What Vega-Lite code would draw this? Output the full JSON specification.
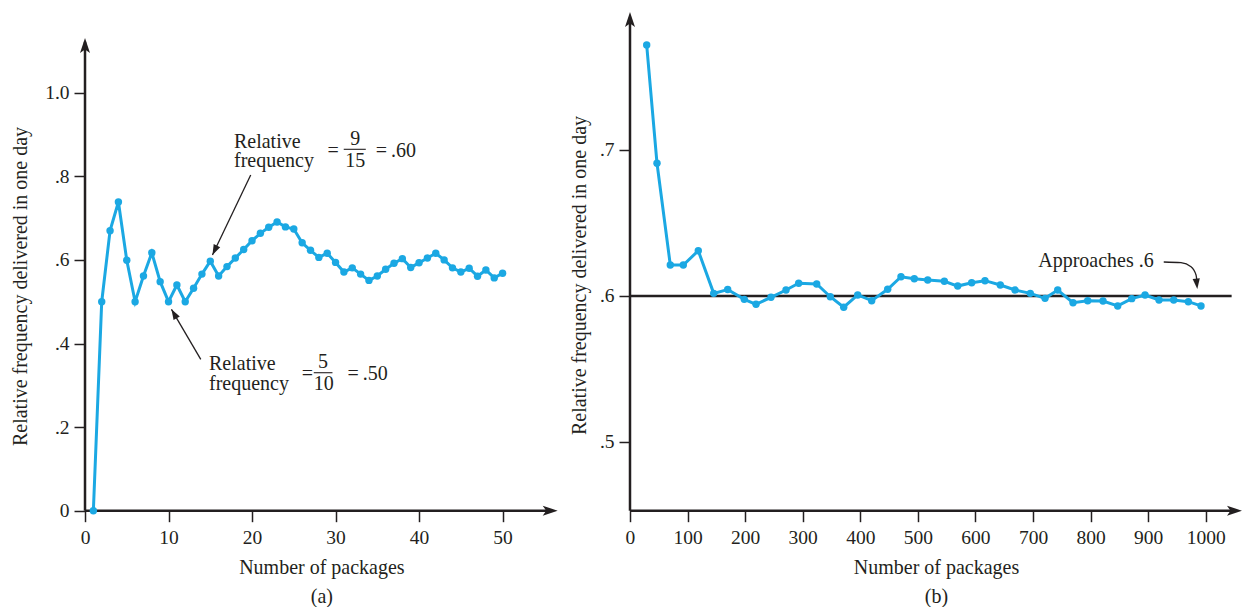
{
  "$schema": "https://vega.github.io/schema/vega-lite/v6.json",
  "background": "#ffffff",
  "padding": {"left": 10, "top": 12, "right": 0, "bottom": 0},
  "bounds": "flush",
  "spacing": 72,
  "config": {
    "view": {"stroke": null},
    "font": "Liberation Serif",
    "axis": {
      "domain": false, "grid": false, "tickSize": 11, "tickWidth": 1.5, "tickColor": "#231f20",
      "labelFont": "Liberation Serif", "labelFontSize": 19.5, "labelColor": "#231f20", "labelFlush": false, "labelOverlap": false,
      "titleFont": "Liberation Serif", "titleFontSize": 20, "titleFontWeight": "normal", "titleColor": "#231f20"
    },
    "axisX": {"labelPadding": 7, "titlePadding": 10, "titleLineHeight": 29},
    "axisY": {"labelPadding": 5, "titleBaseline": "middle"}
  },
  "hconcat": [
    {
      "width": 472.7,
      "height": 498.7,
      "data": {"values": [{}]},
      "layer": [
        {"data": {"values": [
          {"n": 1, "f": 0}, {"n": 50, "f": 0.568}
         ]},
         "mark": {"type": "rule", "opacity": 0},
         "encoding": {
           "x": {"field": "n", "type": "quantitative", "scale": {"domain": [0, 56.6], "nice": false, "zero": false},
                 "axis": {"values": [0, 10, 20, 30, 40, 50], "title": ["Number of packages", "(a)"]}},
           "y": {"field": "f", "type": "quantitative", "scale": {"domain": [0, 1.1931], "nice": false, "zero": false},
                 "axis": {"values": [0, 0.2, 0.4, 0.6, 0.8, 1], "labelExpr": "datum.value == 0 ? '0' : (datum.value == 1 ? '1.0' : replace(format(datum.value, '.1f'), '0.', '.'))",
                          "title": "Relative frequency delivered in one day", "titleX": -64.3, "titleY": 274}}
         }},
        {"mark": {"type": "rule", "color": "#231f20", "strokeWidth": 2.5},
         "encoding": {"x": {"datum": 0, "type": "quantitative"}, "y": {"datum": 0, "type": "quantitative"}, "y2": {"datum": 1.122}}},
        {"mark": {"type": "rule", "color": "#231f20", "strokeWidth": 2.5},
         "encoding": {"x": {"datum": 0, "type": "quantitative"}, "x2": {"datum": 56.0}, "y": {"datum": 0, "type": "quantitative"}}},
        {"mark": {"type": "point", "shape": "M0,0L-1,3L0,2.3L1,3Z", "size": 100, "filled": true, "opacity": 1, "color": "#231f20", "angle": 0},
         "encoding": {"x": {"datum": 0, "type": "quantitative"}, "y": {"datum": 1.1309, "type": "quantitative"}}},
        {"mark": {"type": "point", "shape": "M0,0L-1,3L0,2.3L1,3Z", "size": 100, "filled": true, "opacity": 1, "color": "#231f20", "angle": 90},
         "encoding": {"x": {"datum": 56.6, "type": "quantitative"}, "y": {"datum": 0, "type": "quantitative"}}},
        {"mark": {"type": "rule", "color": "#231f20", "strokeWidth": 1.3},
         "encoding": {"x": {"datum": 19.84, "type": "quantitative"}, "y": {"datum": 0.8031, "type": "quantitative"}, "x2": {"datum": 15.26}, "y2": {"datum": 0.6117}}},
        {"mark": {"type": "point", "shape": "M0,0L-0.9,2.6L0.9,2.6Z", "size": 64, "filled": true, "opacity": 1, "color": "#231f20", "angle": 205.6},
         "encoding": {"x": {"datum": 15.26, "type": "quantitative"}, "y": {"datum": 0.6117, "type": "quantitative"}}},
        {"mark": {"type": "rule", "color": "#231f20", "strokeWidth": 1.3},
         "encoding": {"x": {"datum": 13.86, "type": "quantitative"}, "y": {"datum": 0.3622, "type": "quantitative"}, "x2": {"datum": 10.35}, "y2": {"datum": 0.4818}}},
        {"mark": {"type": "point", "shape": "M0,0L-0.9,2.6L0.9,2.6Z", "size": 64, "filled": true, "opacity": 1, "color": "#231f20", "angle": 329.7},
         "encoding": {"x": {"datum": 10.35, "type": "quantitative"}, "y": {"datum": 0.4818, "type": "quantitative"}}},
        {"mark": {"type": "rule", "color": "#231f20", "strokeWidth": 1.1},
         "encoding": {"x": {"datum": 30.98, "type": "quantitative"}, "x2": {"datum": 33.62}, "y": {"datum": 0.8646, "type": "quantitative"}}},
        {"mark": {"type": "rule", "color": "#231f20", "strokeWidth": 1.1},
         "encoding": {"x": {"datum": 27.39, "type": "quantitative"}, "x2": {"datum": 29.63}, "y": {"datum": 0.3301, "type": "quantitative"}}},
        {"data": {"values": [
          {"x": 17.84, "y": 0.8689, "t": "Relative"},
          {"x": 17.84, "y": 0.8222, "t": "frequency"},
          {"x": 29.03, "y": 0.8462, "t": "="},
          {"x": 34.81, "y": 0.8462, "t": "=\u2009.60"},
          {"x": 14.85, "y": 0.3354, "t": "Relative"},
          {"x": 14.85, "y": 0.2888, "t": "frequency"},
          {"x": 25.95, "y": 0.3115, "t": "="},
          {"x": 31.43, "y": 0.3115, "t": "=\u2009.50"}
         ]},
         "mark": {"type": "text", "align": "left", "baseline": "alphabetic", "fontSize": 20, "font": "Liberation Serif", "color": "#231f20"},
         "encoding": {"x": {"field": "x", "type": "quantitative"}, "y": {"field": "y", "type": "quantitative"}, "text": {"field": "t"}}},
        {"data": {"values": [
          {"x": 32.36, "y": 0.8749, "t": "9"},
          {"x": 32.36, "y": 0.8230, "t": "15"},
          {"x": 28.49, "y": 0.3407, "t": "5"},
          {"x": 28.59, "y": 0.2888, "t": "10"}
         ]},
         "mark": {"type": "text", "align": "center", "baseline": "alphabetic", "fontSize": 20, "font": "Liberation Serif", "color": "#231f20"},
         "encoding": {"x": {"field": "x", "type": "quantitative"}, "y": {"field": "y", "type": "quantitative"}, "text": {"field": "t"}}},
        {"data": {"values": [
          {"n": 1, "f": 0}, {"n": 2, "f": 0.5}, {"n": 3, "f": 0.67}, {"n": 4, "f": 0.7385}, {"n": 5, "f": 0.599},
          {"n": 6, "f": 0.5}, {"n": 7, "f": 0.5615}, {"n": 8, "f": 0.617}, {"n": 9, "f": 0.548}, {"n": 10, "f": 0.5},
          {"n": 11, "f": 0.54}, {"n": 12, "f": 0.5}, {"n": 13, "f": 0.532}, {"n": 14, "f": 0.566}, {"n": 15, "f": 0.597},
          {"n": 16, "f": 0.5615}, {"n": 17, "f": 0.584}, {"n": 18, "f": 0.6045}, {"n": 19, "f": 0.625}, {"n": 20, "f": 0.646},
          {"n": 21, "f": 0.6636}, {"n": 22, "f": 0.678}, {"n": 23, "f": 0.6907}, {"n": 24, "f": 0.679}, {"n": 25, "f": 0.674},
          {"n": 26, "f": 0.641}, {"n": 27, "f": 0.623}, {"n": 28, "f": 0.606}, {"n": 29, "f": 0.616}, {"n": 30, "f": 0.594},
          {"n": 31, "f": 0.571}, {"n": 32, "f": 0.581}, {"n": 33, "f": 0.566}, {"n": 34, "f": 0.551}, {"n": 35, "f": 0.5615},
          {"n": 36, "f": 0.5775}, {"n": 37, "f": 0.592}, {"n": 38, "f": 0.603}, {"n": 39, "f": 0.582}, {"n": 40, "f": 0.593},
          {"n": 41, "f": 0.6045}, {"n": 42, "f": 0.616}, {"n": 43, "f": 0.6}, {"n": 44, "f": 0.581}, {"n": 45, "f": 0.571},
          {"n": 46, "f": 0.58}, {"n": 47, "f": 0.561}, {"n": 48, "f": 0.576}, {"n": 49, "f": 0.557}, {"n": 50, "f": 0.568}
         ]},
         "mark": {"type": "line", "color": "#1ba8e3", "strokeWidth": 3, "point": {"filled": true, "size": 55, "color": "#1ba8e3", "opacity": 1}},
         "encoding": {
           "x": {"field": "n", "type": "quantitative"},
           "y": {"field": "f", "type": "quantitative"}
         }}
      ]
    },
    {
      "width": 612,
      "height": 498.7,
      "data": {"values": [{}]},
      "layer": [
        {"data": {"values": [
          {"n": 29.0, "f": 0.7719}, {"n": 991.8, "f": 0.5932}
         ]},
         "mark": {"type": "rule", "opacity": 0},
         "encoding": {
           "x": {"field": "n", "type": "quantitative", "scale": {"domain": [0, 1063], "nice": false, "zero": false},
                 "axis": {"values": [0, 100, 200, 300, 400, 500, 600, 700, 800, 900, 1000], "labelExpr": "format(datum.value, 'd')", "title": ["Number of packages", "(b)"]}},
           "y": {"field": "f", "type": "quantitative", "scale": {"domain": [0.45295, 0.79452], "nice": false, "zero": false},
                 "axis": {"values": [0.5, 0.6, 0.7], "labelExpr": "replace(format(datum.value, '.1f'), '0.', '.')",
                          "title": "Relative frequency delivered in one day", "titleX": -51, "titleY": 263}}
         }},
        {"mark": {"type": "rule", "color": "#231f20", "strokeWidth": 2.5},
         "encoding": {"x": {"datum": 0, "type": "quantitative"}, "y": {"datum": 0.45295, "type": "quantitative"}, "y2": {"datum": 0.787}}},
        {"mark": {"type": "rule", "color": "#231f20", "strokeWidth": 2.5},
         "encoding": {"x": {"datum": 0, "type": "quantitative"}, "x2": {"datum": 1050}, "y": {"datum": 0.45295, "type": "quantitative"}}},
        {"mark": {"type": "rule", "color": "#231f20", "strokeWidth": 2.5},
         "encoding": {"x": {"datum": 0, "type": "quantitative"}, "x2": {"datum": 1045}, "y": {"datum": 0.6, "type": "quantitative"}}},
        {"mark": {"type": "point", "shape": "M0,0L-1,3L0,2.3L1,3Z", "size": 100, "filled": true, "opacity": 1, "color": "#231f20", "angle": 0},
         "encoding": {"x": {"datum": 0, "type": "quantitative"}, "y": {"datum": 0.7945, "type": "quantitative"}}},
        {"mark": {"type": "point", "shape": "M0,0L-1,3L0,2.3L1,3Z", "size": 100, "filled": true, "opacity": 1, "color": "#231f20", "angle": 90},
         "encoding": {"x": {"datum": 1063, "type": "quantitative"}, "y": {"datum": 0.45295, "type": "quantitative"}}},
        {"data": {"values": [
          {"x": 927.1, "y": 0.6233}, {"x": 957.1, "y": 0.6228}, {"x": 974.5, "y": 0.6201}, {"x": 983.2, "y": 0.6144}, {"x": 984.9, "y": 0.6095}
         ]},
         "mark": {"type": "line", "color": "#231f20", "strokeWidth": 1.3, "interpolate": "monotone"},
         "encoding": {"x": {"field": "x", "type": "quantitative"}, "y": {"field": "y", "type": "quantitative"}}},
        {"mark": {"type": "point", "shape": "M0,0L-0.9,2.6L0.9,2.6Z", "size": 64, "filled": true, "opacity": 1, "color": "#231f20", "angle": 174},
         "encoding": {"x": {"datum": 985.4, "type": "quantitative"}, "y": {"datum": 0.6048, "type": "quantitative"}}},
        {"mark": {"type": "text", "align": "left", "baseline": "alphabetic", "fontSize": 20, "font": "Liberation Serif", "color": "#231f20", "text": "Approaches .6"},
         "encoding": {"x": {"datum": 709.2, "type": "quantitative"}, "y": {"datum": 0.6201, "type": "quantitative"}}},
        {"data": {"values": [
          {"n": 29.0, "f": 0.7719}, {"n": 46.9, "f": 0.6909}, {"n": 70.0, "f": 0.6212}, {"n": 92.6, "f": 0.6212}, {"n": 118.6, "f": 0.631},
          {"n": 145.4, "f": 0.6018}, {"n": 169.7, "f": 0.6044}, {"n": 198.5, "f": 0.5977}, {"n": 218.9, "f": 0.5943}, {"n": 244.9, "f": 0.5991},
          {"n": 271.0, "f": 0.6041}, {"n": 293.0, "f": 0.6087}, {"n": 324.3, "f": 0.6082}, {"n": 347.9, "f": 0.5995}, {"n": 371.2, "f": 0.5923},
          {"n": 395.5, "f": 0.6007}, {"n": 419.8, "f": 0.5968}, {"n": 447.6, "f": 0.6046}, {"n": 470.7, "f": 0.6132}, {"n": 493.8, "f": 0.6118},
          {"n": 517.1, "f": 0.611}, {"n": 546.0, "f": 0.6101}, {"n": 569.2, "f": 0.6068}, {"n": 593.5, "f": 0.6091}, {"n": 616.6, "f": 0.6105},
          {"n": 643.2, "f": 0.6075}, {"n": 668.8, "f": 0.6041}, {"n": 695.3, "f": 0.6018}, {"n": 720.9, "f": 0.5984}, {"n": 742.9, "f": 0.6041},
          {"n": 769.5, "f": 0.5954}, {"n": 795.0, "f": 0.5968}, {"n": 821.6, "f": 0.5966}, {"n": 847.1, "f": 0.5932}, {"n": 871.5, "f": 0.5982},
          {"n": 894.6, "f": 0.6007}, {"n": 918.9, "f": 0.5973}, {"n": 944.4, "f": 0.5973}, {"n": 969.8, "f": 0.5961}, {"n": 991.8, "f": 0.5932}
         ]},
         "mark": {"type": "line", "color": "#1ba8e3", "strokeWidth": 3, "point": {"filled": true, "size": 55, "color": "#1ba8e3", "opacity": 1}},
         "encoding": {
           "x": {"field": "n", "type": "quantitative"},
           "y": {"field": "f", "type": "quantitative"}
         }}
      ]
    }
  ]
}
